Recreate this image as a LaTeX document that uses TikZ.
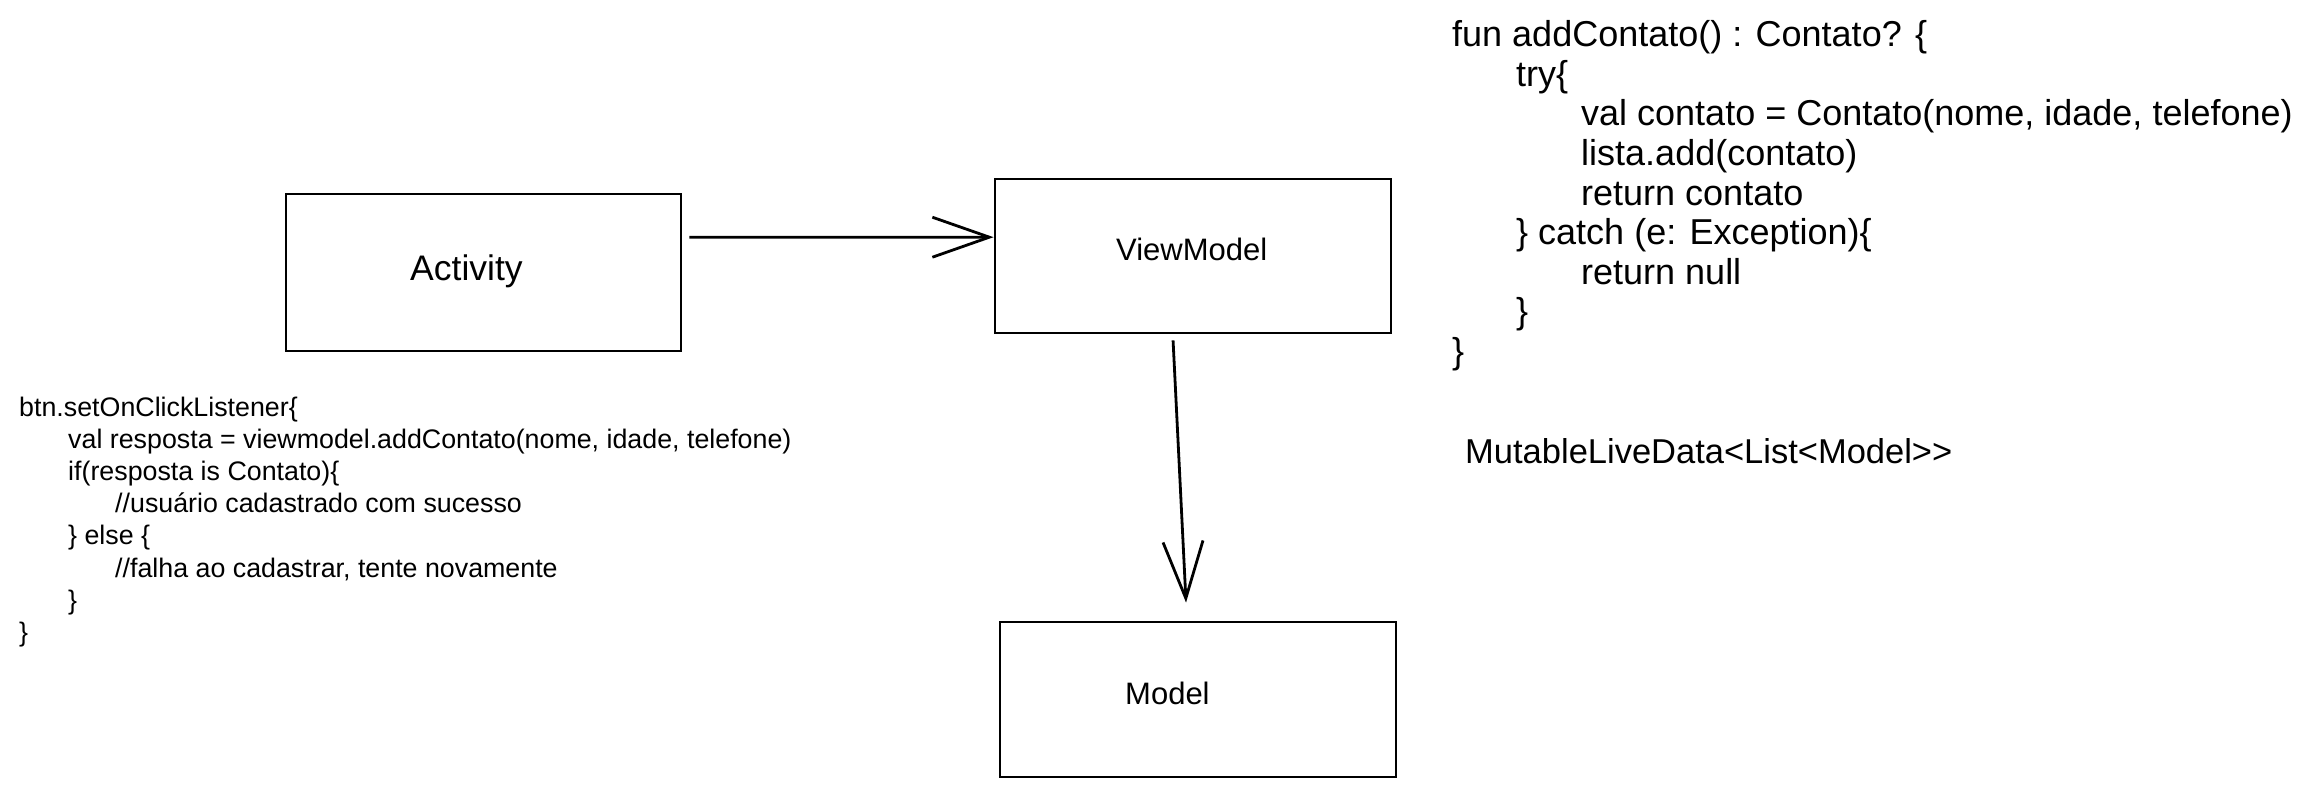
\documentclass[tikz,border=0pt]{standalone}
\usepackage{fontspec}
\setmainfont{Liberation Sans}
\usetikzlibrary{arrows.meta,calc}
\begin{document}
\begin{tikzpicture}[x=1pt,y=-1pt,
  box/.style={draw,line width=2.8pt,inner sep=0pt},
  lbl/.style={anchor=base west,inner sep=0pt,font=\fontsize{32}{38}\selectfont},
  lcode/.style={anchor=base west,inner sep=0pt,font=\fontsize{26.8}{32}\selectfont},
  rcode/.style={anchor=base west,inner sep=0pt,font=\fontsize{36}{40}\selectfont},
  arr/.style={line width=2.8pt,-{Straight Barb[length=57pt,width=40pt,line width=2.8pt]}}]
\useasboundingbox[fill=white] (0,0) rectangle (2321,797);
% boxes
\node[box,minimum width=395pt,minimum height=157pt] (act) at (483.5,272.5) {};
\node[box,minimum width=396pt,minimum height=154pt] (vm) at (1193,256) {};
\node[box,minimum width=396pt,minimum height=155pt] (model) at (1198,699.5) {};
\node[lbl,font=\fontsize{35.5}{40}\selectfont] (actl) at (410,280) {Activity};
\node[lbl,font=\fontsize{31}{38}\selectfont] (vml) at (1116,260) {ViewModel};
\node[lbl,font=\fontsize{31}{38}\selectfont] (modell) at (1125,704) {Model};
% connectors
\draw[arr] ([xshift=7pt]$(act.north east)!0.28!(act.south east)$) -- ($(vm.north west)!0.38!(vm.south west)$);
\draw[arr] ([yshift=-6pt]$(vm.south west)!0.45!(vm.south east)$) -- ([yshift=18pt]$(model.north west)!0.47!(model.north east)$);
% left code
\node[lcode] (l1) at (19,416) {btn.setOnClickListener\{};
\node[lcode] (l2) at (68,448.2) {val resposta = viewmodel.addContato(nome, idade, telefone)};
\node[lcode] (l3) at (68,480.4) {if(resposta is Contato)\{};
\node[lcode] (l4) at (115,512.6) {//usuário cadastrado com sucesso};
\node[lcode] (l5) at (68,544.8) {\} else \{};
\node[lcode] (l6) at (115,577) {//falha ao cadastrar, tente novamente};
\node[lcode] (l7) at (68,609.2) {\}};
\node[lcode] (l8) at (19,641.4) {\}};
% right code
\node[rcode] (r1) at (1452,47) {fun addContato() : Contato? \{};
\node[rcode] (r2) at (1516,86.5) {try\{};
\node[rcode] (r3) at (1581,126) {val contato = Contato(nome, idade, telefone)};
\node[rcode] (r4) at (1581,165.5) {lista.add(contato)};
\node[rcode] (r5) at (1581,205) {return contato};
\node[rcode] (r6) at (1516,244.5) {\} catch (e: Exception)\{};
\node[rcode] (r7) at (1581,284) {return null};
\node[rcode] (r8) at (1516,323.5) {\}};
\node[rcode] (r9) at (1452,363) {\}};
\node[rcode,font=\fontsize{34.5}{40}\selectfont] (mld) at (1465,463) {MutableLiveData<List<Model>{}>};
\end{tikzpicture}
\end{document}
